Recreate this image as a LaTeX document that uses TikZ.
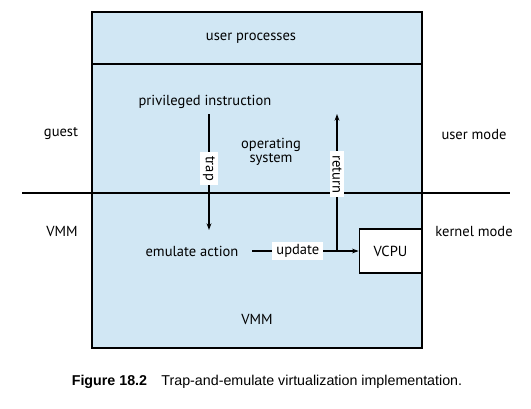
\documentclass[tikz,border=0pt]{standalone}
\usepackage{fontspec}
\setmainfont{PT Sans}
\newfontfamily\capfont{Liberation Sans}
\usetikzlibrary{arrows.meta}
\definecolor{vmmblue}{RGB}{209,231,244}

\begin{document}
\begin{tikzpicture}[x=0.75pt,y=-0.75pt,
    >={Stealth[length=5pt,width=3.6pt]},
    lbl/.style={fill=white,inner xsep=3pt,inner ysep=2pt},
    txt/.style={font=\fontsize{10.9}{13}\selectfont}]
      \useasboundingbox (0,0) rectangle (531,408);
      \draw[line width=0.8pt, fill=vmmblue]
      (92,12) rectangle (422,348);
      \draw[line width=0.8pt] (92,64)--(422,64);
      \draw[line width=0.8pt] (22,193)--(510,193);

      \node at (251,38) [txt] (userproc) {user processes};
      \node at (205,102) [txt] (priv) {privileged instruction};
      \node at (271,152) [txt,align=center] (os) {operating\\[-2pt]system};
      \node at (192,251) [txt] (emulate) {emulate action};
      \node at (257,319) [txt] (vmm) {VMM};
      \node at (390.5,251) [txt,draw,line width=0.8pt,fill=white,
            minimum width=47pt,minimum height=33pt] (vcpu) {VCPU};

      \node at (61,134) [txt] (guest) {guest};
      \node at (474,134) [txt] (usermode) {user mode};
      \node at (62,231) [txt] (vmmside) {VMM};
      \node at (474,231) [txt] (kernelmode) {kernel mode};

      \coordinate (traptop) at (209,114);
      \coordinate (trapbot) at (209,230);
      \coordinate (retbase) at (337,251);
      \coordinate (rettop) at (337,114);
      \coordinate (updstart) at (252,251);

      \draw[->,line width=0.8pt]
      (traptop) -- node[pos=0.47,lbl,txt,rotate=-90] {trap} (trapbot);
      \draw[->,line width=0.8pt]
      (updstart) -- node[pos=0.43,lbl,txt] {update} (vcpu.west);
      \draw[->,line width=0.8pt]
      (retbase) -- node[pos=0.56,lbl,txt,rotate=-90] {return} (rettop);

      \node at (267,382) [font=\capfont\fontsize{10.7}{12}\selectfont] (caption)
      {\textbf{Figure 18.2}\hspace{1em}Trap-and-emulate virtualization implementation.};
\end{tikzpicture}
\end{document}
